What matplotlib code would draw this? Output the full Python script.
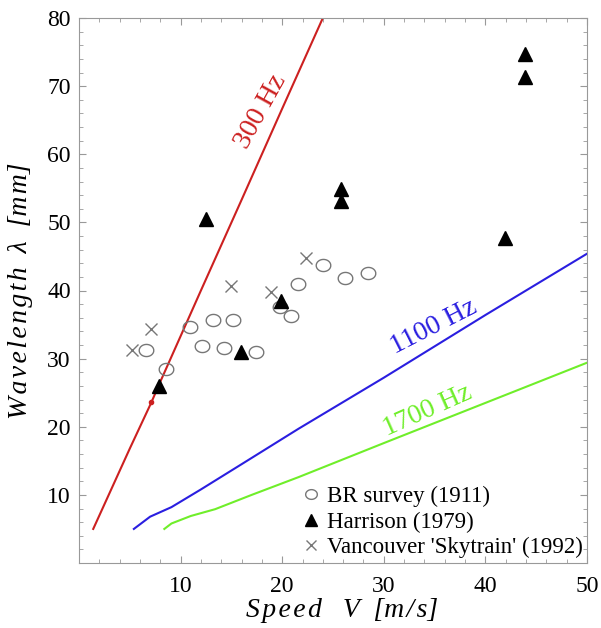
import numpy as np
import matplotlib
matplotlib.use('Agg')
import matplotlib.pyplot as plt
from matplotlib.path import Path
from matplotlib.ticker import MultipleLocator

plt.rcParams['font.family'] = ['Liberation Serif', 'DejaVu Serif']

# Frekans eğrileri (V [m/s], lambda [mm])
v300 = [1.4, 5.0, 7.1, 8.0, 12.0, 16.0, 20.0, 24.0]
l300 = [5.0, 16.8, 23.5, 26.6, 40.0, 53.3, 66.7, 80.0]
v1100 = [5.4, 7.0, 9.1, 12.0, 16.0, 21.6, 30.0, 40.0, 50.0]
l1100 = [5.0, 6.8, 8.2, 10.8, 14.5, 19.7, 27.2, 36.4, 45.4]
v1700 = [8.4, 9.1, 11.0, 13.4, 17.0, 21.6, 30.0, 40.0, 50.0]
l1700 = [5.0, 5.8, 6.9, 7.9, 10.0, 12.6, 17.6, 23.5, 29.4]

# Ölçüm verileri
br_v = [6.55, 8.6, 10.9, 13.2, 15.2, 12.1, 14.3, 17.4, 19.8, 20.9, 21.6, 24.0, 26.2, 28.4]
br_l = [31.3, 28.5, 34.7, 35.6, 35.7, 31.8, 31.5, 31.0, 37.6, 36.3, 41.0, 43.8, 41.9, 42.6]
har_v = [12.5, 7.9, 15.9, 19.9, 25.8, 25.8, 41.9, 43.9, 43.9]
har_l = [50.5, 26.0, 31.0, 38.4, 54.9, 53.1, 47.7, 74.7, 71.4]
van_v = [5.2, 7.1, 15.0, 18.9, 22.3]
van_l = [31.3, 34.3, 40.7, 39.8, 44.8]

# elips işaretçi
t = np.linspace(0, 2 * np.pi, 40)
ell = Path(np.column_stack([1.2 * np.cos(t), np.sin(t)]))

fig = plt.figure(figsize=(6.01, 6.28), dpi=100)
ax = fig.add_axes([79 / 601, 65 / 628, 508 / 601, 545 / 628])

red, blue, green = '#cc2020', '#2a1ee0', '#6fee2a'
ax.plot(v300, l300, color=red, lw=1.5)
ax.plot(v1100, l1100, color=blue, lw=1.5)
ax.plot(v1700, l1700, color=green, lw=1.5)
ax.plot([7.1], [23.6], marker='o', ms=3, color=red)

ax.plot(br_v, br_l, ls='none', marker=ell, ms=10.5, mfc='none', mec='#777777', mew=1.0,
        label='BR survey (1911)')
ax.plot(har_v, har_l, ls='none', marker='^', ms=10, color='black',
        label='Harrison (1979)')
ax.plot(van_v, van_l, ls='none', marker='x', ms=9, color='#777777', mew=1.0,
        label="Vancouver 'Skytrain' (1992)")

ax.text(17.9, 66.3, '300 Hz', color=red, fontsize=20, rotation=61, ha='center', va='center')
ax.text(34.9, 34.6, '1100 Hz', color=blue, fontsize=20, rotation=27, ha='center', va='center')
ax.text(34.3, 22.4, '1700 Hz', color=green, fontsize=20, rotation=24, ha='center', va='center')

ax.set_xlim(0, 50)
ax.set_ylim(0, 80)
ax.xaxis.set_minor_locator(MultipleLocator(2))
ax.yaxis.set_minor_locator(MultipleLocator(2))
ax.set_xticks([10, 20, 30, 40, 50])
ax.set_yticks([10, 20, 30, 40, 50, 60, 70, 80])
ax.tick_params(which='both', direction='in', top=True, right=True, color='#999999',
               labelsize=17)
ax.tick_params(axis='y', pad=6)
ax.tick_params(axis='x', pad=9)
ax.tick_params(which='major', length=5)
ax.tick_params(which='minor', length=3)
for s in ax.spines.values():
    s.set_color('#999999')

hs = '\u200a'
xl = hs.join('Speed') + '   V  [' + hs.join('m/s') + ']'
yl = hs.join('Wavelength') + '  λ  [' + hs.join('mm') + ']'
ax.set_xlabel(xl, fontsize=20, fontstyle='italic', labelpad=2)
ax.xaxis.set_label_coords(0.518, -0.065)
ax.set_ylabel(yl, fontsize=20, fontstyle='italic', labelpad=10)

ax.legend(loc='lower right', frameon=False, fontsize=16.5, handlelength=0.8, handletextpad=0.3,
          labelspacing=0.2, borderaxespad=0.1, borderpad=0.1, markerscale=0.8)

fig.savefig('out.png', dpi=100)
